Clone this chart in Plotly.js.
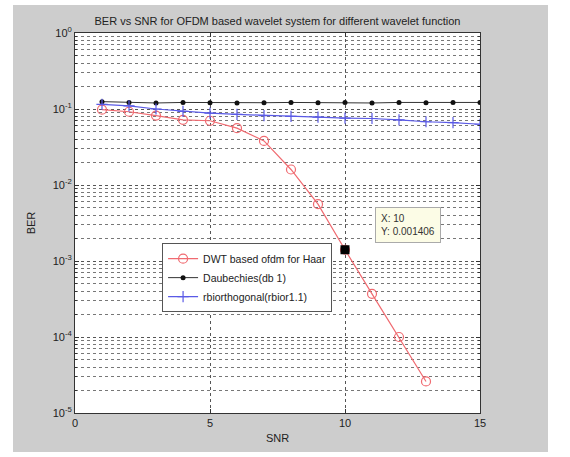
<!DOCTYPE html>
<html>
<head>
<meta charset="utf-8">
<script src="https://cdn.plot.ly/plotly-3.0.1.min.js"></script>
<style>
  html, body { margin: 0; padding: 0; background: #ffffff; width: 570px; height: 457px; overflow: hidden; }
  #chart { position: absolute; left: 13px; top: 5px; width: 535px; height: 447px; }
</style>
</head>
<body>
<div id="chart"></div>
<script>
// SNR values
const snrHaar = [1, 2, 3, 4, 5, 6, 7, 8, 9, 10, 11, 12, 13];
const berHaar = [0.098, 0.092, 0.082, 0.072, 0.070, 0.056, 0.038, 0.016, 0.0056, 0.001406, 0.00037, 0.0001, 0.000026];

const snrDb = [1, 2, 3, 4, 5, 6, 7, 8, 9, 10, 11, 12, 13, 14, 15];
const berDb = [0.125, 0.122, 0.120, 0.122, 0.121, 0.120, 0.121, 0.122, 0.121, 0.122, 0.120, 0.122, 0.121, 0.122, 0.122];

const snrBior = [1, 2, 3, 4, 5, 6, 7, 8, 9, 10, 11, 12, 13, 14, 15];
const berBior = [0.115, 0.110, 0.100, 0.093, 0.088, 0.085, 0.082, 0.080, 0.078, 0.076, 0.075, 0.072, 0.068, 0.066, 0.063];

const seriesNames = ['DWT based ofdm for Haar', 'Daubechies(db 1)', 'rbiorthogonal(rbior1.1)'];

const tipX = [10];
const tipY = [0.001406];

const yTickVals = [1, 0.1, 0.01, 0.001, 0.0001, 0.00001];
const yTickText = ['10<sup>0</sup>', '10<sup>-1</sup>', '10<sup>-2</sup>', '10<sup>-3</sup>', '10<sup>-4</sup>', '10<sup>-5</sup>'];
const xTickVals = [0, 5, 10, 15];
const xTickText = ['0', '5', '10', '15'];

const traces = [
  {
    x: snrHaar, y: berHaar, name: seriesNames[0], mode: 'lines+markers', type: 'scatter',
    line: { color: '#f06a70', width: 1.2 },
    marker: { symbol: 'circle-open', size: 9, color: '#f06a70', line: { width: 1.2 } }
  },
  {
    x: snrDb, y: berDb, name: seriesNames[1], mode: 'lines+markers', type: 'scatter',
    line: { color: '#333333', width: 1 },
    marker: { symbol: 'circle', size: 5, color: '#111111' }
  },
  {
    x: snrBior, y: berBior, name: seriesNames[2], mode: 'lines+markers', type: 'scatter',
    line: { color: '#5a5ae6', width: 1.2 },
    marker: { symbol: 'cross-thin-open', size: 8, color: '#5a5ae6', line: { width: 1.2, color: '#5a5ae6' } }
  },
  {
    x: tipX, y: tipY, mode: 'markers', type: 'scatter', showlegend: false, hoverinfo: 'skip',
    marker: { symbol: 'square', size: 9, color: '#000000' }
  }
];

const layout = {
  width: 535, height: 447,
  margin: { l: 62, r: 68, t: 28, b: 39 },
  paper_bgcolor: '#cdcdcd',
  plot_bgcolor: '#ffffff',
  font: { family: 'Liberation Sans, Arial, sans-serif', size: 11, color: '#222222' },
  title: {
    text: 'BER vs SNR for OFDM based wavelet system for different wavelet function',
    font: { size: 11, color: '#222222' },
    x: 0.5, xref: 'paper', y: 1, yref: 'paper', yanchor: 'bottom', pad: { b: 8 }
  },
  showlegend: true,
  legend: {
    x: 0.215, y: 0.447, xanchor: 'left', yanchor: 'top',
    bgcolor: '#ffffff', bordercolor: '#555555', borderwidth: 1,
    font: { size: 10.5, color: '#222222' },
    tracegroupgap: 0, itemwidth: 30
  },
  xaxis: {
    range: [0, 15],
    tickvals: xTickVals, ticktext: xTickText,
    ticks: 'inside', ticklen: 4, tickcolor: '#333333',
    showline: true, linecolor: '#333333', linewidth: 1, mirror: 'ticks',
    showgrid: true, gridcolor: '#555555', griddash: 'dot', gridwidth: 1,
    zeroline: false,
    title: { text: 'SNR', font: { size: 11 }, standoff: 6 }
  },
  yaxis: {
    type: 'log',
    range: [-5, 0],
    tickvals: yTickVals, ticktext: yTickText,
    ticks: 'inside', ticklen: 4, tickcolor: '#333333',
    showline: true, linecolor: '#333333', linewidth: 1, mirror: 'ticks',
    showgrid: true, gridcolor: '#555555', griddash: 'dot', gridwidth: 1,
    minor: { showgrid: true, gridcolor: '#777777', griddash: 'dot', gridwidth: 1, dtick: 'D1', ticks: 'inside', ticklen: 2, tickcolor: '#333333' },
    zeroline: false,
    title: { text: 'BER', font: { size: 11 }, standoff: 14 }
  },
  annotations: [
    {
      x: 10, y: Math.log10(tipY[0]), xref: 'x', yref: 'y',
      text: 'X: 10<br>Y: 0.001406',
      showarrow: false, align: 'left',
      xanchor: 'left', yanchor: 'bottom', xshift: 30, yshift: 7,
      bgcolor: '#fcfce6', bordercolor: '#aaaaaa', borderwidth: 1, borderpad: 5,
      font: { size: 10, color: '#333333' }
    }
  ]
};

Plotly.newPlot('chart', traces, layout, { displayModeBar: false, staticPlot: true });
</script>
</body>
</html>
